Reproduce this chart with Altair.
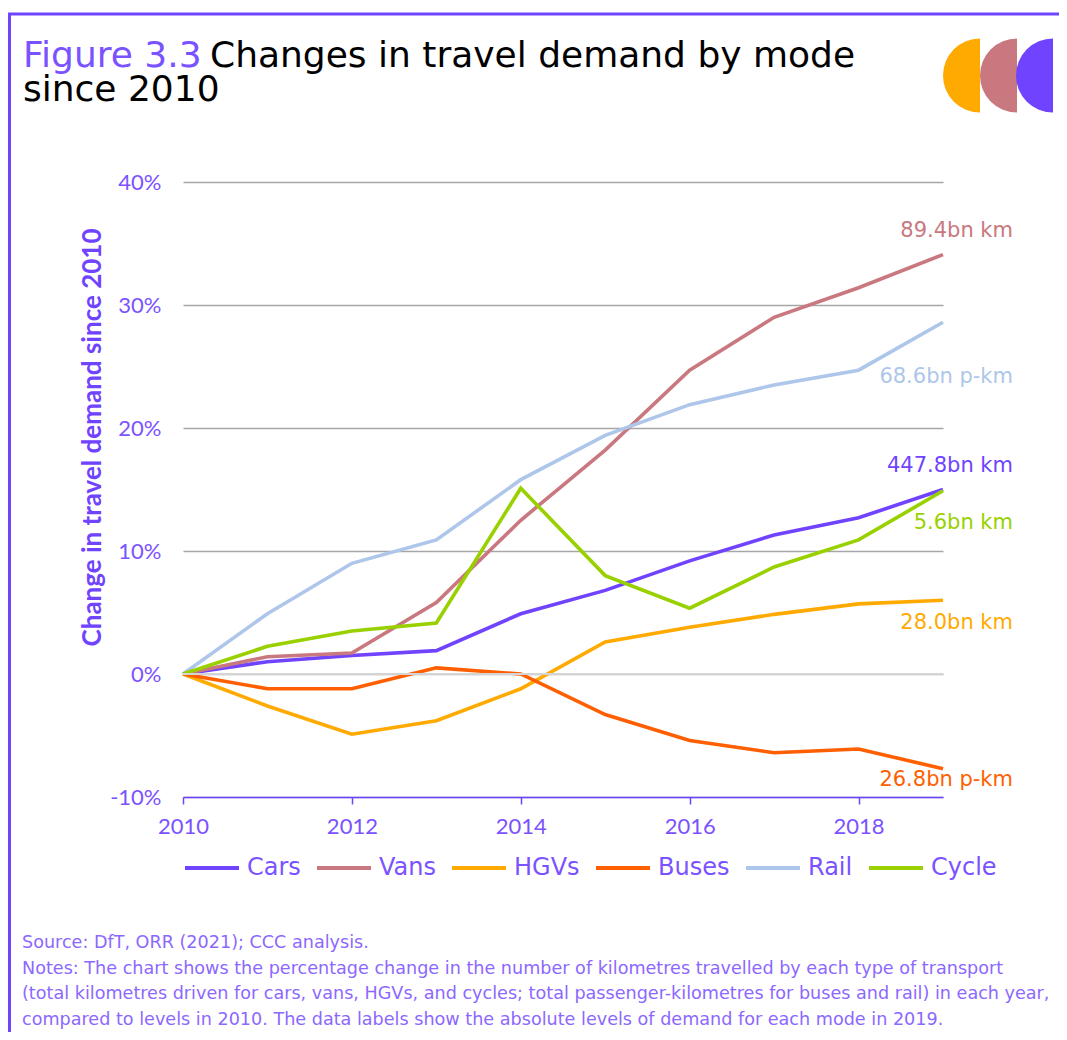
import math
import altair as alt
import pandas as pd

# ---------------- data ----------------
years = [2010, 2011, 2012, 2013, 2014, 2015, 2016, 2017, 2018, 2019]
cars = [0, 1.0, 1.5, 1.9, 4.9, 6.8, 9.2, 11.3, 12.7, 15.0]
vans = [0, 1.4, 1.7, 5.8, 12.5, 18.2, 24.7, 29.0, 31.4, 34.1]
hgvs = [0, -2.6, -4.9, -3.8, -1.2, 2.6, 3.8, 4.85, 5.7, 6.0]
buses = [0, -1.2, -1.2, 0.5, 0.0, -3.3, -5.4, -6.4, -6.1, -7.7]
rail = [0, 4.9, 9.0, 10.9, 15.8, 19.4, 21.9, 23.5, 24.7, 28.6]
cycle = [0, 2.25, 3.5, 4.15, 15.1, 8.0, 5.35, 8.7, 10.9, 14.9]

modes = ["Cars", "Vans", "HGVs", "Buses", "Rail", "Cycle"]
series = [cars, vans, hgvs, buses, rail, cycle]
end_labels = ["447.8bn km", "89.4bn km", "28.0bn km", "26.8bn p-km", "68.6bn p-km", "5.6bn km"]
colors = ["#7043FF", "#C8787E", "#FFAA00", "#FF5F00", "#ADC6EA", "#99D100"]
y_ticks = [-10, 0, 10, 20, 30, 40]
x_ticks = [2010, 2012, 2014, 2016, 2018]

title_a = "Figure 3.3"
title_b = "Changes in travel demand by mode"
title_c = "since 2010"
y_title = "Change in travel demand  since 2010"
notes = [
    "Source: DfT, ORR (2021); CCC analysis.",
    "Notes: The chart shows the percentage change in the number of kilometres travelled by each type of transport",
    "(total kilometres driven for cars, vans, HGVs, and cycles; total passenger-kilometres for buses and rail) in each year,",
    "compared to levels in 2010. The data labels show the absolute levels of demand for each mode in 2019.",
]

WIDE = "DejaVu Sans"
NARROW = "Lato"
PURPLE = "#7043FF"
TEXT_PURPLE = "#7B52FF"
NOTE_PURPLE = "#8C68FF"

rows = []
for m, vals in zip(modes, series):
    for yv, v in zip(years, vals):
        rows.append({"Year": yv, "Mode": m, "Change": v})
df = pd.DataFrame(rows)

W, H = 760, 615

xscale = alt.Scale(domain=[2010, 2019], nice=False, zero=False)
xaxis = alt.Axis(
    values=x_ticks, format="d", grid=False, domainColor=PURPLE, tickColor=PURPLE,
    domainWidth=1.5, tickWidth=1.5, tickSize=7, labelPadding=12, labelFontSize=22,
    labelColor=TEXT_PURPLE, labelFont=NARROW, labelFlush=False, title=None,
)
xenc = alt.X("Year:Q", scale=xscale, axis=xaxis)
yscale = alt.Scale(domain=[-10, 40], nice=False)
yaxis = alt.Axis(
    values=y_ticks, labelExpr="datum.value + '%'", grid=True, gridColor="#A6A6A6",
    gridWidth=1.5, domain=False, ticks=False, labelPadding=22, labelFontSize=22,
    labelColor=TEXT_PURPLE, labelFont=NARROW, title=y_title, titleFont=NARROW,
    titleFontSize=26, titleFontWeight="bold", titleColor=PURPLE, titleAngle=-90,
    titleX=-91, titleY=255, titleAlign="center", titleBaseline="middle",
)
yenc = alt.Y("Change:Q", scale=yscale, axis=yaxis)

lines = alt.Chart(df).mark_line(strokeWidth=3.6).encode(
    x=xenc,
    y=yenc,
    color=alt.Color(
        "Mode:N",
        scale=alt.Scale(domain=modes, range=colors),
        sort=modes,
        legend=alt.Legend(
            orient="none", legendX=0, legendY=657, direction="horizontal", title=None,
            symbolType="stroke", symbolSize=2916, symbolStrokeWidth=4, labelFontSize=24,
            labelFont=WIDE, labelColor=TEXT_PURPLE, columnPadding=8, labelOffset=6,
        ),
    ),
    order=alt.Order("Year:Q"),
)

zero_rule = alt.Chart(pd.DataFrame({"Change": [0]})).mark_rule(color="#D4D4D4", strokeWidth=2).encode(
    y=yenc
)

label_dy = {"Cars": -24, "Vans": -24, "HGVs": 23, "Buses": 11, "Rail": 55, "Cycle": 32}
label_layers = []
for m, vals, lab, col in zip(modes, series, end_labels, colors):
    ldf = pd.DataFrame({"Year": [years[-1]], "Change": [vals[-1]], "Label": [lab]})
    label_layers.append(
        alt.Chart(ldf).mark_text(
            align="right", baseline="middle", dx=70, dy=label_dy[m], fontSize=21,
            font=WIDE, color=col,
        ).encode(x=xenc, y=yenc, text="Label:N")
    )

one = pd.DataFrame({"a": [0]})
# border
border_top = alt.Chart(one).mark_rule(color=PURPLE, strokeWidth=3).encode(
    x=alt.value(-175), x2=alt.value(880), y=alt.value(-168)
)
border_left = alt.Chart(one).mark_rule(color=PURPLE, strokeWidth=3).encode(
    x=alt.value(-173.5), y=alt.value(-168), y2=alt.value(860)
)
# title
t1 = alt.Chart(one).mark_text(align="left", baseline="alphabetic", fontSize=36, font=WIDE, color=TEXT_PURPLE).encode(
    x=alt.value(-160), y=alt.value(-115), text=alt.value(title_a)
)
t2 = alt.Chart(one).mark_text(align="left", baseline="alphabetic", fontSize=36, font=WIDE, color="#000000").encode(
    x=alt.value(27), y=alt.value(-115), text=alt.value(title_b)
)
t3 = alt.Chart(one).mark_text(align="left", baseline="alphabetic", fontSize=36, font=WIDE, color="#000000").encode(
    x=alt.value(-160), y=alt.value(-81), text=alt.value(title_c)
)
# logo half circles
logo = []
for cx, col in zip([797, 834, 870], ["#FFAA00", "#C8787E", PURPLE]):
    logo.append(
        alt.Chart(one).mark_arc(radius=37, theta=math.pi, theta2=2 * math.pi, color=col).encode(
            x=alt.value(cx), y=alt.value(-106.5)
        )
    )
# notes
note_layers = []
for i, line in enumerate(notes):
    note_layers.append(
        alt.Chart(one).mark_text(align="left", baseline="middle", fontSize=17.6, font=WIDE, color=NOTE_PURPLE).encode(
            x=alt.value(-161), y=alt.value(761 + i * 25.7), text=alt.value(line)
        )
    )

chart = alt.layer(
    lines, zero_rule, *label_layers, border_top, border_left, t1, t2, t3, *logo, *note_layers
).properties(
    width=W, height=H,
    background="white",
    autosize=alt.AutoSizeParams(type="none"),
    padding={"left": 175, "top": 174, "right": 116, "bottom": 235},
).configure_view(stroke=None, strokeWidth=0)

chart.save("out.html", embed_options={"renderer": "svg", "actions": False})
